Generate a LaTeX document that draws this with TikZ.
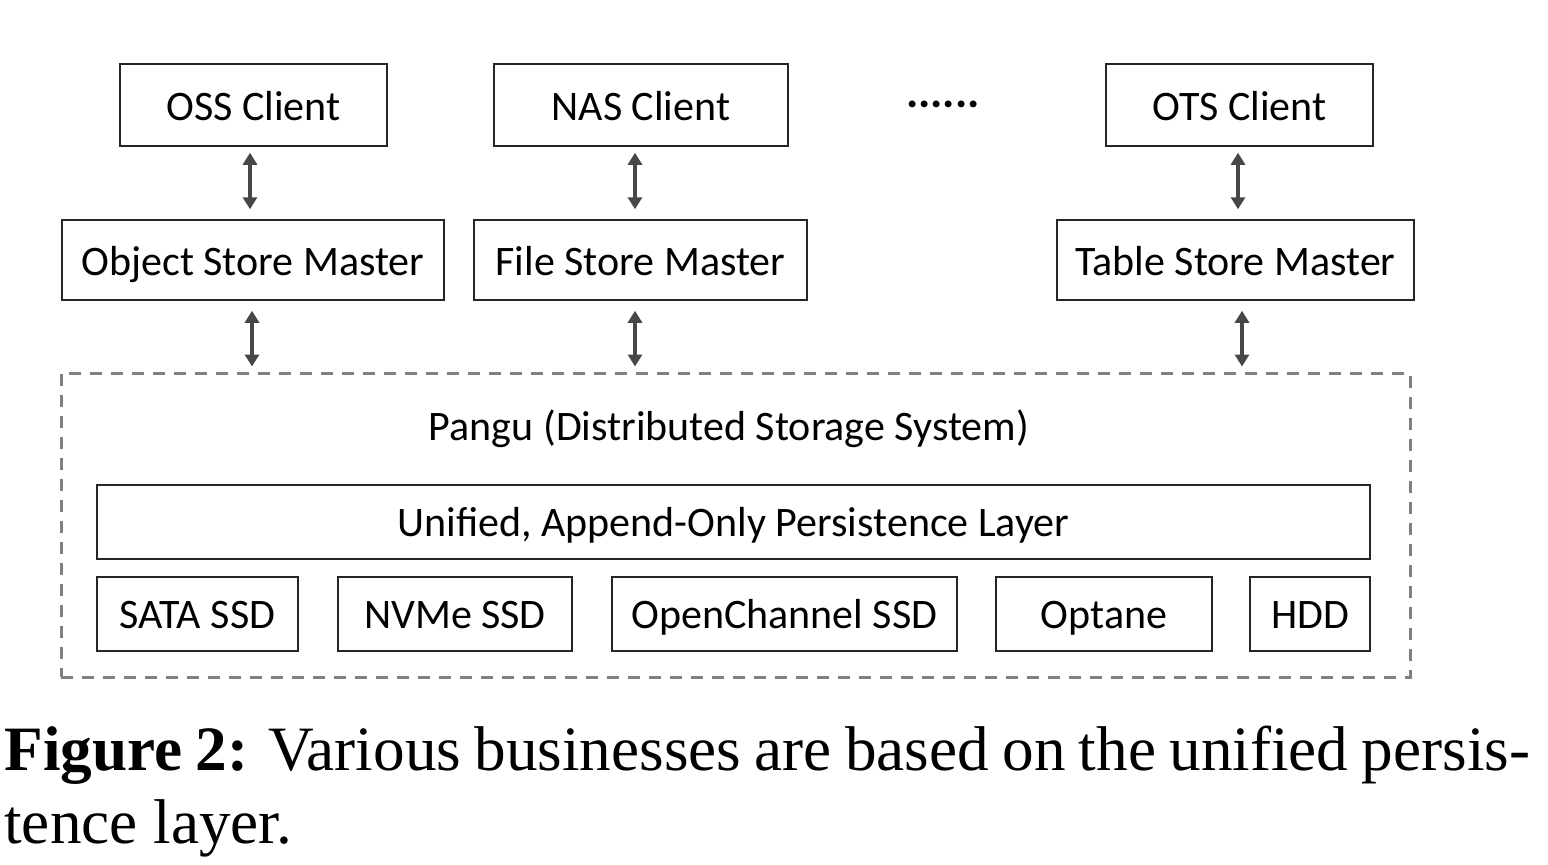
\documentclass[tikz,border=0pt]{standalone}
\usepackage{fontspec}
\setmainfont{Carlito}
\newfontfamily\capfont{Liberation Serif}
\usetikzlibrary{arrows.meta}
\begin{document}
\begin{tikzpicture}[x=0.5pt,y=-0.5pt,
  box/.style={draw=black!85, line width=0.75pt, rectangle, inner sep=0pt, minimum height=41pt, text height=19pt, text depth=4pt, font=\fontsize{21}{24}\selectfont},
  dev/.style={box, minimum height=37pt, text height=18pt, text depth=4pt},
  arr/.style={draw=black!72, line width=2pt, {Triangle[width=7pt,length=6pt]}-{Triangle[width=7pt,length=6pt]}},
  lbl/.style={inner sep=0pt, font=\fontsize{21}{24}\selectfont}]
\useasboundingbox (0,0) rectangle (1548,864);
\fill[white] (0,0) rectangle (1548,864);
% clients
\node[box, minimum width=133.5pt] (oss) at (253.5,105) {OSS Client};
\node[box, minimum width=147pt] (nas) at (641,105) {NAS Client};
\node[lbl, font=\bfseries\fontsize{23}{24}\selectfont] (dots) at (943,104) {......};
\node[box, minimum width=133.5pt] (ots) at (1239.5,105) {OTS Client};
% masters
\node[box, minimum width=191pt, minimum height=40pt] (osm) at (253,260) {Object Store Master};
\node[box, minimum width=166.5pt, minimum height=40pt] (fsm) at (640.5,260) {File Store Master};
\node[box, minimum width=178.5pt, minimum height=40pt] (tsm) at (1235.5,260) {Table Store Master};
% pangu
\node[draw=black!50, line width=1.5pt, dash pattern=on 6pt off 4.5pt, rectangle, minimum width=674.5pt, minimum height=152pt, inner sep=0pt] (pangu) at (735.5,525) {};
\node[lbl, text height=18pt, text depth=4pt] (pt) at (729,426) {Pangu (Distributed Storage System)};
\node[dev, minimum width=636.5pt] (uni) at (733.5,522) {Unified, Append-Only Persistence Layer};
\node[dev, minimum width=100.5pt] (sata) at (197.5,614) {SATA SSD};
\node[dev, minimum width=117pt] (nvme) at (455,614) {NVMe SSD};
\node[dev, minimum width=172.5pt] (occ) at (784.5,614) {OpenChannel SSD};
\node[dev, minimum width=108pt] (opt) at (1104,614) {Optane};
\node[dev, minimum width=60pt] (hdd) at (1310,614) {HDD};
% arrows
\draw[arr, shorten <=3pt, shorten >=5pt] ([xshift=-1.75pt]oss.south) -- ([xshift=-1.75pt]oss.south |- osm.north);
\draw[arr, shorten <=3pt, shorten >=5pt] ([xshift=-3pt]nas.south) -- ([xshift=-3pt]nas.south |- fsm.north);
\draw[arr, shorten <=3pt, shorten >=5pt] ([xshift=-0.75pt]ots.south) -- ([xshift=-0.75pt]ots.south |- tsm.north);
\draw[arr, shorten <=5pt, shorten >=2.5pt] ([xshift=-0.5pt]osm.south) -- ([xshift=-0.5pt]osm.south |- pangu.north);
\draw[arr, shorten <=5pt, shorten >=2.5pt] ([xshift=-2.75pt]fsm.south) -- ([xshift=-2.75pt]fsm.south |- pangu.north);
\draw[arr, shorten <=5pt, shorten >=2.5pt] ([xshift=3.25pt]tsm.south) -- ([xshift=3.25pt]tsm.south |- pangu.north);
% caption
\node[anchor=base west, inner sep=0pt, font=\capfont\fontsize{31.6}{36.5}\selectfont] (cap1) at (4,770) {\hbox to 763pt{\textbf{Figure 2:} Various businesses are based on the unified persis-}};
\node[anchor=base west, inner sep=0pt, font=\capfont\fontsize{31.6}{36.5}\selectfont] (cap2) at (4,843) {tence layer.};
\end{tikzpicture}
\end{document}
